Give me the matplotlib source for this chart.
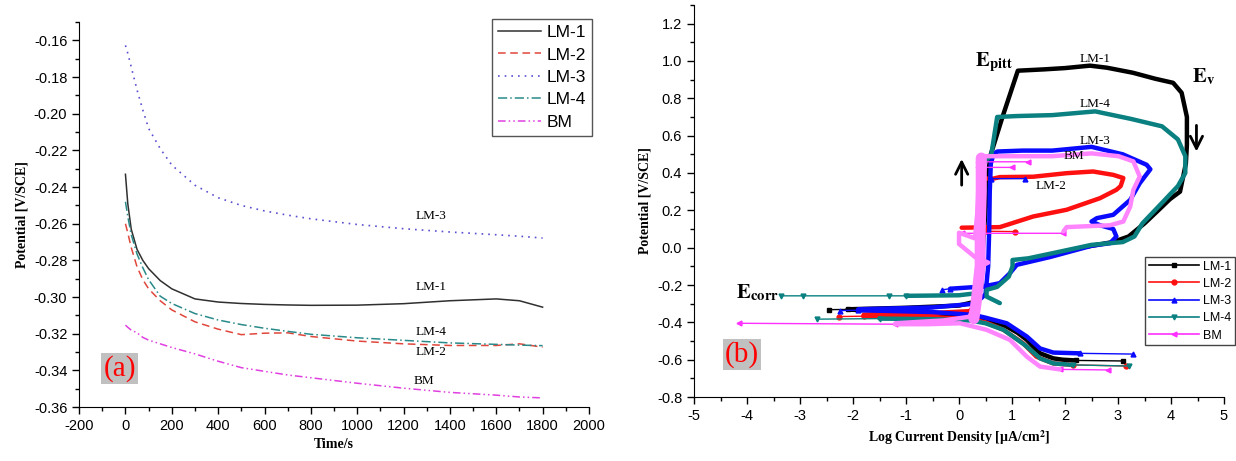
import numpy as np
import matplotlib
matplotlib.use("Agg")
import matplotlib.pyplot as plt
from matplotlib.ticker import MultipleLocator
from matplotlib.lines import Line2D

plt.rcParams['font.family'] = ['Liberation Sans', 'DejaVu Sans']
plt.rcParams['mathtext.fontset'] = 'stix'
plt.rcParams['axes.unicode_minus'] = False

nan = np.nan

# ---- (a) open circuit potential vs time ----
time_s = [0, 10, 25, 50, 75, 100, 150, 200, 300, 400, 500, 600, 700, 800, 1000, 1200, 1400, 1600, 1700, 1800]
ocp_lm1 = [-0.233, -0.249, -0.263, -0.274, -0.280, -0.2845, -0.291, -0.2955, -0.301, -0.3027, -0.3035, -0.304,
           -0.3043, -0.3045, -0.3044, -0.3036, -0.302, -0.301, -0.302, -0.3055]
ocp_lm2 = [-0.260, -0.265, -0.273, -0.2835, -0.2905, -0.2955, -0.302, -0.307, -0.3135, -0.3175, -0.3205, -0.3197,
           -0.3195, -0.3215, -0.324, -0.3255, -0.3264, -0.3264, -0.3255, -0.3273]
ocp_lm3 = [-0.1627, -0.167, -0.1745, -0.187, -0.198, -0.208, -0.219, -0.228, -0.239, -0.2458, -0.250, -0.253,
           -0.2553, -0.2573, -0.2604, -0.2627, -0.2645, -0.266, -0.2668, -0.2678]
ocp_lm4 = [-0.248, -0.256, -0.266, -0.2765, -0.284, -0.2905, -0.2995, -0.3035, -0.309, -0.3125, -0.315, -0.317,
           -0.3187, -0.3203, -0.3222, -0.3236, -0.325, -0.3258, -0.3262, -0.3265]
ocp_bm = [-0.3153, -0.3165, -0.318, -0.3195, -0.322, -0.3235, -0.3255, -0.3275, -0.331, -0.335, -0.3385, -0.3405,
          -0.3425, -0.344, -0.347, -0.3497, -0.352, -0.3535, -0.3545, -0.355]
ocp_names = ['LM-1', 'LM-2', 'LM-3', 'LM-4', 'BM']

# ---- (b) potentiodynamic polarisation: log i vs E ----
lm1_x = [2.2, 1.95, 1.78, 1.53, 1.4, 1.28, 1.1, 0.9, 0.6, 0.27, -0.5, -1.2, -2.1, nan,
         -2.1, -1.0, 0.0, 0.3, 0.42, 0.45, 0.5, 0.55, 0.6, 0.82, 1.11, 1.6, 2.0, 2.47, 2.79, 3.28, 3.7, 4.04,
         4.2, 4.3, 4.3, 4.28, 4.17, 3.98, 3.76, 3.5, 3.2, 2.9, 2.4]
lm1_y = [-0.604, -0.600, -0.593, -0.566, -0.53, -0.494, -0.455, -0.423, -0.39, -0.37, -0.35, -0.34, -0.332, nan,
         -0.330, -0.322, -0.31, -0.29, -0.2, 0.0, 0.2, 0.4, 0.5, 0.7, 0.948, 0.955, 0.962, 0.975, 0.964, 0.937,
         0.905, 0.883, 0.83, 0.70, 0.55, 0.45, 0.30, 0.26, 0.20, 0.13, 0.06, 0.03, 0.005]
lm1_tx = [3.1, 2.2, nan, -2.45, -2.1]
lm1_ty = [-0.607, -0.604, nan, -0.332, -0.331]

lm2_x = [2.16, 1.78, 1.6, 1.46, 1.21, 0.84, 0.5, 0.21, -0.5, -1.8, nan,
         -1.8, -0.5, 0.2, 0.33, 0.35, 0.36, 0.38, 0.4, 0.42, 0.65, 0.77, 1.4, 2.03, 2.53, 2.91, 3.1, 3.05, 2.97,
         2.66, 2.03, 1.4, 0.77, 0.3, 0.05]
lm2_y = [-0.628, -0.62, -0.60, -0.584, -0.512, -0.44, -0.40, -0.383, -0.372, -0.367, nan,
         -0.36, -0.35, -0.34, -0.3, 0.0, 0.09, 0.2, 0.3, 0.37, 0.37, 0.378, 0.38, 0.399, 0.408, 0.39, 0.373,
         0.33, 0.31, 0.265, 0.203, 0.167, 0.11, 0.108, 0.107]
lm2_tx = [3.16, 2.16, nan, -2.27, -1.8, nan, 0.5, 1.06]
lm2_ty = [-0.634, -0.628, nan, -0.369, -0.367, nan, 0.088, 0.086]

lm3_x = [2.28, 1.78, 1.53, 1.28, 0.9, 0.5, 0.27, -0.5, -1.9, nan,
         -1.9, -0.5, 0.3, 0.5, 0.55, 0.57, 0.58, 0.6, 0.65, 0.72, 1.2, 1.76, 2.5, 3.09, 3.54, 3.61, 3.41, 3.23,
         2.91, 2.6, 2.5, 2.66, 2.91, 2.97, 2.85, 2.5, 1.72, 1.09, 0.96, 0.77, 0.46, -0.17]
lm3_y = [-0.566, -0.562, -0.54, -0.476, -0.405, -0.375, -0.36, -0.345, -0.335, nan,
         -0.33, -0.32, -0.30, -0.25, -0.1, 0.1, 0.3, 0.45, 0.50, 0.515, 0.52, 0.52, 0.54, 0.50, 0.444, 0.42,
         0.345, 0.256, 0.176, 0.158, 0.14, 0.12, 0.10, 0.06, 0.024, 0.01, -0.05, -0.092, -0.137, -0.19, -0.208,
         -0.22]
lm3_tx = [3.29, 2.28, nan, -2.25, -1.9, nan, 0.6, 1.24, nan, -0.17, -0.32]
lm3_ty = [-0.57, -0.566, nan, -0.337, -0.335, nan, 0.37, 0.37, nan, -0.22, -0.226]

lm4_x = [2.16, 1.78, 1.53, 1.24, 0.84, 0.5, 0.21, -0.5, -1.5, nan,
         -1.0, 0.0, 0.3, 0.42, 0.45, 0.45, 0.47, 0.61, 0.72, 1.09, 1.76, 2.57, 3.24, 3.83, 4.13, 4.27, 4.27,
         4.13, 3.83, 3.46, 3.31, 3.09, 2.5, 1.76, 1.31, 1.01, 1.01, 0.94, 0.72, 0.52, 0.52, 0.77]
lm4_y = [-0.628, -0.62, -0.593, -0.521, -0.44, -0.405, -0.39, -0.383, -0.38, nan,
         -0.258, -0.255, -0.245, -0.2, 0.0, 0.2, 0.45, 0.5, 0.70, 0.705, 0.71, 0.73, 0.69, 0.65, 0.58, 0.49,
         0.40, 0.33, 0.24, 0.13, 0.06, 0.03, 0.015, -0.03, -0.057, -0.066, -0.10, -0.155, -0.21, -0.226,
         -0.262, -0.297]
lm4_tx = [3.2, 2.16, nan, -2.68, -1.5, nan, -3.35, -2.95, -1.33, -1.0]
lm4_ty = [-0.634, -0.628, nan, -0.383, -0.38, nan, -0.258, -0.258, -0.258, -0.258]

bm_x = [1.9, 1.53, 1.28, 0.96, 0.52, 0.02, -0.6, -1.2, nan,
        -1.2, -0.3, 0.2, 0.3, 0.35, 0.4, 0.55, 0.3, 0.0, 0.0, 0.3, 0.35, 0.38, 0.4, 0.42, 1.0, 1.76, 2.5,
        3.01, 3.29, 3.41, 3.29, 3.23, 3.1, 2.85, 2.5, 2.03, 1.97]
bm_y = [-0.652, -0.637, -0.584, -0.494, -0.44, -0.405, -0.41, -0.41, nan,
        -0.405, -0.39, -0.37, -0.3, -0.2, -0.1, -0.08, -0.05, 0.02, 0.08, 0.05, 0.2, 0.3, 0.45, 0.49, 0.49,
        0.49, 0.505, 0.49, 0.462, 0.381, 0.31, 0.22, 0.14, 0.12, 0.116, 0.11, 0.087]
bm_band_x = [0.28, 0.32, 0.36, 0.4, 0.4, 0.42, 0.42]
bm_band_y = [-0.38, -0.3, -0.2, -0.1, 0.1, 0.3, 0.48]
bm_tx = [2.81, 1.9, nan, -4.15, -1.2, nan, 1.97, 0.05, nan, 0.35, 1.3, nan, 0.35, 1.0]
bm_ty = [-0.655, -0.652, nan, -0.405, -0.41, nan, 0.077, 0.077, nan, 0.46, 0.46, nan, 0.43, 0.43]

fig = plt.figure(figsize=(12.36, 4.61), dpi=100)

# ---------------- panel (a) ----------------
ax1 = fig.add_axes([0.064, 0.117, 0.4125, 0.835])
ax1.plot(time_s, ocp_lm1, color='#303030', lw=1.1, ls='-', label='LM-1')
ax1.plot(time_s, ocp_lm2, color='#e0473c', lw=1.1, ls=(0, (5, 3)), label='LM-2')
ax1.plot(time_s, ocp_lm3, color='#5a4fd0', lw=1.2, ls=(0, (1, 3)), label='LM-3')
ax1.plot(time_s, ocp_lm4, color='#2a8a8a', lw=1.1, ls=(0, (6, 2, 1, 2)), label='LM-4')
ax1.plot(time_s, ocp_bm, color='#e040e0', lw=1.1, ls=(0, (5, 2, 1, 2, 1, 2)), label='BM')

ax1.set_xlim(-200, 2000)
ax1.set_ylim(-0.36, -0.15)
ax1.xaxis.set_major_locator(MultipleLocator(200))
ax1.xaxis.set_minor_locator(MultipleLocator(100))
ax1.yaxis.set_major_locator(MultipleLocator(0.02))
ax1.yaxis.set_minor_locator(MultipleLocator(0.01))
ax1.yaxis.set_major_formatter(plt.FuncFormatter(lambda v, p: f"{v:.2f}"))
for s in ['top', 'right']:
    ax1.spines[s].set_visible(False)
ax1.tick_params(which='major', length=5, width=1, labelsize=10.5)
ax1.tick_params(which='minor', length=3, width=1)
ax1.set_xlabel('Time/s', family='Liberation Serif', weight='bold', fontsize=10)
ax1.set_ylabel('Potential [V/SCE]', family='Liberation Serif', weight='bold', fontsize=10)

for lab, tx, ty in zip(ocp_names, [1320, 1320, 1320, 1320, 1290], [-0.2946, -0.330, -0.256, -0.319, -0.3458]):
    ax1.text(tx, ty, lab, family='Liberation Serif', fontsize=9.5, ha='center', va='center')
ax1.text(-25, -0.339, '(a)', family='Liberation Serif', fontsize=21, color='red', ha='center', va='center',
         bbox=dict(facecolor='#c0c0c0', edgecolor='none', pad=1.5))

fig.legend(*ax1.get_legend_handles_labels(), loc='upper right', bbox_to_anchor=(0.479, 0.959),
           fontsize=12.5, handlelength=2.5, labelspacing=0.42, borderpad=0.35, handletextpad=0.3,
           borderaxespad=0, fancybox=False, edgecolor='#555555', framealpha=1)

# ---------------- panel (b) ----------------
ax2 = fig.add_axes([0.5615, 0.1388, 0.4288, 0.8504])
series = [
    (lm1_x, lm1_y, lm1_tx, lm1_ty, 'black', 'black', 's', 'LM-1'),
    (lm2_x, lm2_y, lm2_tx, lm2_ty, '#ff1010', '#ff1010', 'o', 'LM-2'),
    (lm3_x, lm3_y, lm3_tx, lm3_ty, '#0a0aff', '#0a0aff', '^', 'LM-3'),
    (lm4_x, lm4_y, lm4_tx, lm4_ty, '#0b8080', '#0b8080', 'v', 'LM-4'),
    (bm_x, bm_y, bm_tx, bm_ty, '#ff85ff', '#ff30ff', '<', 'BM'),
]
handles = []
for x, y, tx, ty, c, tc, m, lab in series:
    ax2.plot(tx, ty, color=tc, lw=1.0, marker=m, ms=3.5)
    ax2.plot(x, y, color=c, lw=3.2, solid_capstyle='round', solid_joinstyle='round')
    handles.append(Line2D([], [], color=tc, lw=1.2, marker=m, ms=3.5))
ax2.plot(bm_band_x, bm_band_y, color='#ff85ff', lw=8, solid_capstyle='round')

ax2.set_xlim(-5, 5)
ax2.set_ylim(-0.8, 1.3)
ax2.xaxis.set_major_locator(MultipleLocator(1))
ax2.xaxis.set_minor_locator(MultipleLocator(0.5))
ax2.yaxis.set_major_locator(MultipleLocator(0.2))
ax2.yaxis.set_minor_locator(MultipleLocator(0.1))
ax2.yaxis.set_major_formatter(plt.FuncFormatter(lambda v, p: f"{v:.1f}"))
for s in ['top', 'right']:
    ax2.spines[s].set_visible(False)
ax2.tick_params(which='major', length=5, width=1, labelsize=10.5)
ax2.tick_params(which='minor', length=3, width=1)
ax2.set_xlabel('Log Current Density [μA/cm$^\\mathbf{2}$]', family='Liberation Serif', weight='bold',
               fontsize=10)
ax2.set_ylabel('Potential [V/SCE]', family='Liberation Serif', weight='bold', fontsize=10)

ax2.text(0.3, 0.972, r'$\mathbf{E}_{\mathbf{pitt}}$', fontsize=15, ha='left', va='baseline')
ax2.text(4.39, 0.885, r'$\mathbf{E}_{\mathbf{v}}$', fontsize=15, ha='left', va='baseline')
ax2.text(-4.2, -0.272, r'$\mathbf{E}_{\mathbf{corr}}$', fontsize=15, ha='left', va='baseline')
for lab, tx, ty in zip(['LM-1', 'LM-4', 'LM-3', 'BM', 'LM-2'], [2.56, 2.56, 2.56, 2.16, 1.73],
                       [1.01, 0.768, 0.573, 0.49, 0.33]):
    ax2.text(tx, ty, lab, family='Liberation Serif', fontsize=9.5, ha='center', va='center')
ax2.annotate('', xy=(0.05, 0.49), xytext=(0.05, 0.32),
             arrowprops=dict(arrowstyle='->', lw=2, color='black', mutation_scale=22))
ax2.annotate('', xy=(4.48, 0.5), xytext=(4.48, 0.67),
             arrowprops=dict(arrowstyle='->', lw=2, color='black', mutation_scale=22))
ax2.text(-4.1, -0.57, '(b)', family='Liberation Serif', fontsize=21, color='red', ha='center', va='center',
         bbox=dict(facecolor='#c0c0c0', edgecolor='none', pad=1.5))

fig.legend(handles, ['LM-1', 'LM-2', 'LM-3', 'LM-4', 'BM'], loc='upper right', bbox_to_anchor=(0.999, 0.443),
           fontsize=9, handlelength=4.0, labelspacing=0.42, borderpad=0.3, handletextpad=0.3,
           borderaxespad=0, fancybox=False, edgecolor='#444444', framealpha=1, numpoints=1)

fig.savefig('out.png', dpi=100)
